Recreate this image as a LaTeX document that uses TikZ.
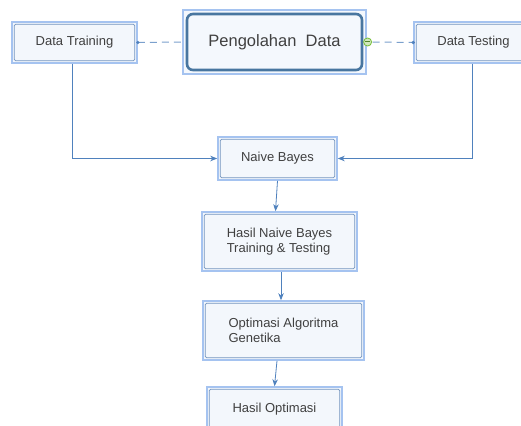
\documentclass[tikz,border=0pt]{standalone}
\usepackage{fontspec}
\setmainfont{Liberation Sans}
\usepackage{tikz}
\usetikzlibrary{arrows.meta}
\usepackage{xcolor}
\definecolor{garisbiru}{RGB}{79,129,189}
\definecolor{bingkai}{RGB}{165,195,240}
\definecolor{tepi}{RGB}{115,148,190}
\definecolor{isian}{RGB}{243,247,252}
\definecolor{teks}{RGB}{64,64,64}
\definecolor{tua}{RGB}{72,118,160}
\definecolor{hijau}{RGB}{120,190,60}
\tikzset{
    kotak/.style={draw=bingkai, line width=1.6pt, fill=isian, text=teks,
        font=\fontsize{13}{15}\selectfont, align=left,
        path picture={\draw[tepi, line width=0.7pt, rounded corners=1.5pt]
            ([shift={(2.2pt,2.2pt)}]path picture bounding box.south west) rectangle
            ([shift={(-2.2pt,-2.2pt)}]path picture bounding box.north east);}},
    utama/.style={draw=bingkai, line width=1.2pt, fill=isian!80!bingkai!40, text=teks,
        font=\fontsize{16.5}{18}\selectfont,
        path picture={\draw[tua, line width=2.6pt, rounded corners=6pt]
            ([shift={(4pt,4pt)}]path picture bounding box.south west) rectangle
            ([shift={(-4pt,-4pt)}]path picture bounding box.north east);}},
    panah/.style={draw=garisbiru, line width=0.8pt, -{Stealth[length=7pt,width=5.5pt]}},
    putus/.style={draw=garisbiru!75, line width=1pt, dash pattern=on 7pt off 5pt},
    titik/.style={fill=garisbiru, draw=none}
}

\begin{document}
\begin{tikzpicture}[x=1pt, y=-1pt]
    \useasboundingbox[fill=white] (0,0) rectangle (521,425);
    \clip (0,0) rectangle (521,425);
    % kotak-kotak
    \node[kotak, minimum width=125pt, minimum height=41pt] (latih) at (74.5,42.5) {Data Training};
    \node[utama, minimum width=183pt, minimum height=64pt] (olah) at (274.5,42) {Pengolahan~~Data};
    \node[kotak, minimum width=119pt, minimum height=41pt] (uji) at (473.5,42.5) {Data Testing};
    \node[kotak, minimum width=119pt, minimum height=43pt] (nb) at (277.5,158.5) {Naive Bayes};
    \node[kotak, minimum width=155pt, minimum height=59pt] (hasilnb) at (279.5,241.5) {Hasil Naive Bayes\\Training \& Testing};
    \node[kotak, minimum width=161pt, minimum height=59pt] (optga) at (283.5,330.5) {Optimasi Algoritma\\Genetika};
    \node[kotak, minimum width=135pt, minimum height=44pt] (hasilopt) at (274.5,409) {Hasil Optimasi};
    % garis putus-putus
    \coordinate (tanda) at ([xshift=1pt]olah.east);
    \draw[putus] (latih.east) -- (olah.west);
    \draw[putus] ([xshift=5pt]tanda) -- (uji.west);
    \fill[titik] (latih.east) circle (1.8pt);
    \fill[titik] (uji.west) circle (1.8pt);
    \draw[hijau, fill=hijau!35, line width=0.8pt] (tanda) circle (4pt);
    \draw[hijau!70!black, line width=1pt] ([xshift=-2.2pt]tanda) -- ([xshift=2.2pt]tanda);
    % panah
    \draw[panah] ([xshift=-2pt]latih.south) |- (nb.west);
    \draw[panah] ([xshift=-1.5pt]uji.south) |- (nb.east);
    \draw[panah] (nb.south) -- ([xshift=-4pt]hasilnb.north);
    \draw[panah] ([xshift=1.5pt]hasilnb.south) -- ([xshift=-2.5pt]optga.north);
    \draw[panah] ([xshift=-6.5pt]optga.south) -- (hasilopt.north);
\end{tikzpicture}
\end{document}
